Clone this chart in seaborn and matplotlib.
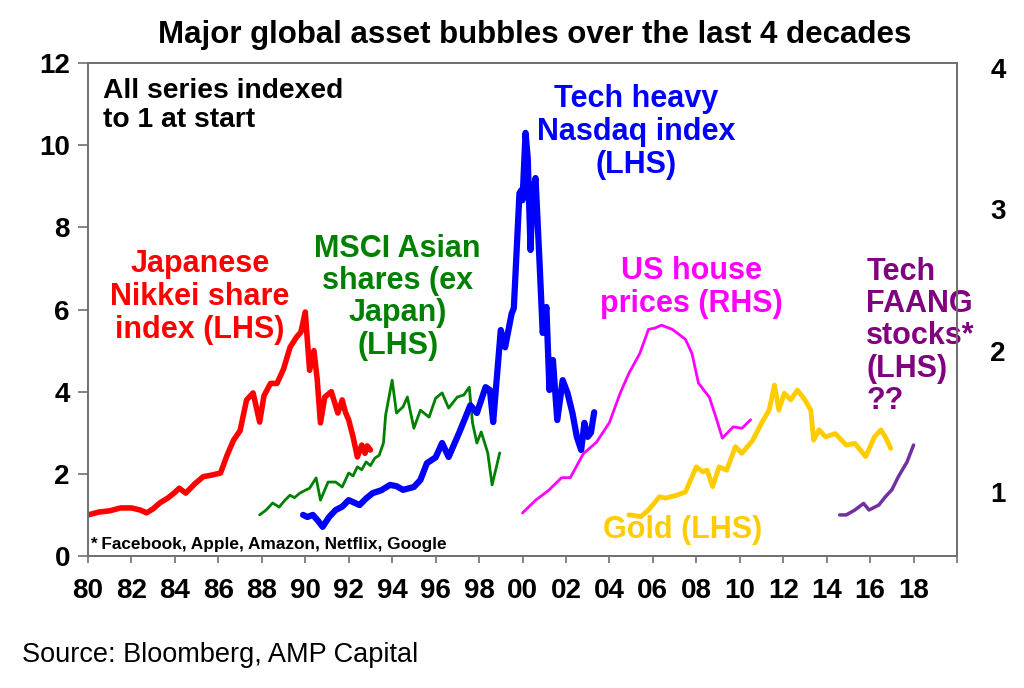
import matplotlib
matplotlib.use("Agg")
import matplotlib.pyplot as plt
import seaborn as sns
import pandas as pd

# ---------------- data ----------------
nikkei_x = [1980.0, 1980.5, 1981.0, 1981.5, 1982.0, 1982.4, 1982.7, 1983.0, 1983.3, 1983.7,
            1984.0, 1984.2, 1984.5, 1984.9, 1985.3, 1985.7, 1986.1, 1986.4, 1986.7, 1987.0,
            1987.3, 1987.6, 1987.9, 1988.1, 1988.4, 1988.7, 1989.0, 1989.3, 1989.6, 1989.8,
            1990.0, 1990.2, 1990.4, 1990.55, 1990.7, 1990.9, 1991.2, 1991.5, 1991.7, 1991.85,
            1992.0, 1992.2, 1992.4, 1992.6, 1992.75, 1992.85, 1993.0]
nikkei_y = [1.0, 1.07, 1.1, 1.17, 1.17, 1.12, 1.05, 1.15, 1.29, 1.42,
            1.55, 1.65, 1.53, 1.75, 1.93, 1.97, 2.02, 2.45, 2.82, 3.05,
            3.8, 3.97, 3.26, 3.9, 4.2, 4.2, 4.55, 5.08, 5.33, 5.45,
            5.94, 4.52, 5.0, 4.3, 3.24, 3.87, 4.0, 3.48, 3.8, 3.5,
            3.31, 2.9, 2.41, 2.70, 2.5, 2.68, 2.58]

asia_x = [1987.9, 1988.2, 1988.5, 1988.8, 1989.05, 1989.3, 1989.5, 1989.75, 1990.0, 1990.2,
          1990.5, 1990.7, 1991.05, 1991.4, 1991.7, 1992.0, 1992.2, 1992.4, 1992.6, 1992.8,
          1993.0, 1993.2, 1993.4, 1993.6, 1993.7, 1994.0, 1994.2, 1994.5, 1994.7, 1995.0,
          1995.3, 1995.7, 1996.0, 1996.3, 1996.6, 1997.0, 1997.3, 1997.55, 1997.7, 1997.9,
          1998.1, 1998.4, 1998.6, 1998.8, 1998.95]
asia_y = [1.0, 1.12, 1.29, 1.19, 1.35, 1.48, 1.42, 1.53, 1.6, 1.65,
          1.9, 1.36, 1.80, 1.80, 1.68, 2.02, 1.95, 2.17, 2.1, 2.29,
          2.2, 2.38, 2.45, 2.75, 3.43, 4.28, 3.48, 3.63, 3.87, 3.11,
          3.55, 3.38, 3.84, 3.97, 3.6, 3.87, 3.92, 4.11, 3.24, 2.75,
          3.02, 2.51, 1.73, 2.17, 2.51]

nasdaq_x = [1989.9, 1990.1, 1990.35, 1990.6, 1990.8, 1991.1, 1991.4, 1991.7, 1992.0, 1992.5,
            1992.8, 1993.1, 1993.5, 1993.9, 1994.2, 1994.5, 1995.0, 1995.3, 1995.6, 1996.0,
            1996.3, 1996.6, 1997.1, 1997.6, 1997.9, 1998.3, 1998.5, 1998.65, 1999.0, 1999.2,
            1999.5, 1999.6, 1999.86, 1999.94, 2000.0, 2000.14, 2000.24, 2000.37, 2000.46, 2000.6,
            2000.78, 2000.93, 2001.1, 2001.24, 2001.4, 2001.6, 2001.85, 2002.07, 2002.3, 2002.5,
            2002.7, 2002.85, 2003.0, 2003.15, 2003.3]
nasdaq_y = [1.0, 0.95, 1.0, 0.85, 0.71, 0.95, 1.12, 1.2, 1.36, 1.24,
            1.4, 1.53, 1.6, 1.73, 1.7, 1.61, 1.68, 1.85, 2.26, 2.4,
            2.75, 2.41, 3.02, 3.67, 3.48, 4.11, 4.04, 3.26, 5.5, 5.08,
            5.9, 6.03, 8.83, 8.9, 8.66, 10.3, 9.7, 7.45, 8.83, 9.2,
            7.2, 5.43, 6.06, 4.04, 4.77, 3.31, 4.28, 3.97, 3.48, 2.90,
            2.58, 3.24, 2.90, 3.0, 3.5]

house_x = [2000.0, 2000.6, 2001.2, 2001.8, 2002.2, 2002.8, 2003.4, 2004.0, 2004.5, 2004.9,
           2005.4, 2005.8, 2006.1, 2006.4, 2006.9, 2007.5, 2007.8, 2008.1, 2008.6, 2008.9,
           2009.2, 2009.7, 2010.1, 2010.5]
house_y = [0.85, 0.94, 1.01, 1.10, 1.10, 1.27, 1.35, 1.49, 1.70, 1.84,
           1.98, 2.15, 2.16, 2.18, 2.15, 2.08, 1.98, 1.77, 1.67, 1.53,
           1.38, 1.46, 1.45, 1.51]

gold_x = [2004.9, 2005.2, 2005.45, 2005.8, 2006.3, 2006.6, 2007.1, 2007.5, 2008.0, 2008.3,
          2008.5, 2008.75, 2009.05, 2009.4, 2009.8, 2010.1, 2010.6, 2011.0, 2011.35, 2011.6,
          2011.8, 2012.05, 2012.35, 2012.65, 2013.0, 2013.27, 2013.4, 2013.65, 2013.95, 2014.4,
          2014.9, 2015.3, 2015.8, 2016.2, 2016.5, 2016.7, 2016.95]
gold_y = [1.0, 0.98, 0.96, 1.12, 1.44, 1.41, 1.48, 1.56, 2.17, 2.05,
          2.09, 1.69, 2.17, 2.09, 2.66, 2.50, 2.82, 3.23, 3.55, 4.16,
          3.55, 3.96, 3.80, 4.04, 3.80, 3.55, 2.82, 3.07, 2.90, 2.98,
          2.70, 2.74, 2.42, 2.90, 3.07, 2.90, 2.62]

faang_x = [2014.6, 2014.9, 2015.3, 2015.7, 2015.95, 2016.4, 2016.7, 2017.0, 2017.3, 2017.7, 2018.0]
faang_y = [1.0, 1.0, 1.12, 1.28, 1.12, 1.24, 1.44, 1.61, 1.93, 2.29, 2.70]

x_ticks = list(range(1980, 2021, 2))
x_labels = [f"{t % 100:02d}" for t in range(1980, 2019, 2)] + [""]
left_ticks = [0, 2, 4, 6, 8, 10, 12]
right_ticks = [1, 2, 3, 4]

# ---------------- styling ----------------
sns.set_theme(style="white")
plt.rcParams["font.family"] = ["Liberation Sans", "DejaVu Sans"]
plt.rcParams["font.weight"] = "bold"

fig = plt.figure(figsize=(10.24, 6.88), dpi=100)
ax = fig.add_axes([88 / 1024, 1 - 556 / 688, (957 - 88) / 1024, (556 - 63) / 688])
ax2 = ax.twinx()

RED, GREEN, BLUE = "#FF0000", "#008000", "#0000FF"
MAG, GOLD, PURP, PURPL = "#FF00FF", "#FFCC00", "#800080", "#7030A0"

def draw(axis, xs, ys, color, lw):
    df = pd.DataFrame({"x": xs, "y": ys})
    sns.lineplot(data=df, x="x", y="y", ax=axis, color=color, linewidth=lw,
                 sort=False, estimator=None)

draw(ax, nikkei_x, nikkei_y, RED, 4.0)
draw(ax, asia_x, asia_y, GREEN, 2.0)
draw(ax, nasdaq_x, nasdaq_y, BLUE, 4.5)
draw(ax, gold_x, gold_y, GOLD, 3.5)
draw(ax, faang_x, faang_y, PURPL, 2.5)
draw(ax2, house_x, house_y, MAG, 2.0)

ax.set_xlim(1980, 2020)
ax.set_ylim(0, 12)
ax2.set_ylim((633 - 556) / 141.2, (633 - 63) / 141.2)

ax.set_xticks(x_ticks)
ax.set_xticklabels(x_labels)
ax.set_yticks(left_ticks)
ax.set_yticklabels([str(v) for v in left_ticks])
ax2.set_yticks(right_ticks)
ax2.set_yticklabels([str(v) for v in right_ticks])
for a in (ax, ax2):
    a.set_xlabel("")
    a.set_ylabel("")

spine_c = "#707070"
for a in (ax, ax2):
    for s in a.spines.values():
        s.set_color(spine_c)
        s.set_linewidth(1.3)

ax.tick_params(axis="x", direction="out", length=5, width=1.2, color=spine_c,
               labelsize=20, pad=11, bottom=True, labelcolor="black")
ax.tick_params(axis="y", direction="out", length=7, width=1.2, color=spine_c,
               labelsize=20, pad=6, left=True, labelcolor="black")
ax2.tick_params(axis="y", length=0, labelsize=20, pad=24, right=True, labelcolor="black")
for lab in ax.get_xticklabels() + ax.get_yticklabels() + ax2.get_yticklabels():
    lab.set_fontweight("bold")

# ---------------- annotations ----------------
ax.text(1980.69, 11.63, "All series indexed\nto 1 at start", ha="left", va="top",
        fontsize=20.3, fontweight="bold", color="black", linespacing=1.12)
ax.text(1985.15, 6.30, "Japanese\nNikkei share\nindex (LHS)", ha="center", va="center",
        fontsize=22, fontweight="bold", color=RED, linespacing=1.12)
ax.text(1994.25, 6.30, "MSCI Asian\nshares (ex\nJapan)\n(LHS)", ha="center", va="center",
        fontsize=22, fontweight="bold", color=GREEN, linespacing=1.1)
ax.text(2005.24, 10.32, "Tech heavy\nNasdaq index\n(LHS)", ha="center", va="center",
        fontsize=22, fontweight="bold", color=BLUE, linespacing=1.12)
ax.text(2007.77, 6.54, "US house\nprices (RHS)", ha="center", va="center",
        fontsize=22, fontweight="bold", color=MAG, linespacing=1.12)
ax.text(2015.82, 5.35, "Tech\nFAANG\nstocks*\n(LHS)\n??", ha="left", va="center",
        fontsize=22, fontweight="bold", color=PURP, linespacing=1.1)
ax.text(2007.36, 0.63, "Gold (LHS)", ha="center", va="center",
        fontsize=22, fontweight="bold", color=GOLD)
ax.text(1980.1, 0.27, "* Facebook, Apple, Amazon, Netflix, Google", ha="left", va="center",
        fontsize=12.4, fontweight="bold", color="black")

fig.text(535 / 1024, 1 - 35 / 688, "Major global asset bubbles over the last 4 decades",
         ha="center", va="center", fontsize=22.5, fontweight="bold", color="black")
fig.text(22 / 1024, 1 - 655 / 688, "Source: Bloomberg, AMP Capital",
         ha="left", va="center", fontsize=19.5, fontweight="normal", color="black")

fig.savefig("out.png", dpi=100)
